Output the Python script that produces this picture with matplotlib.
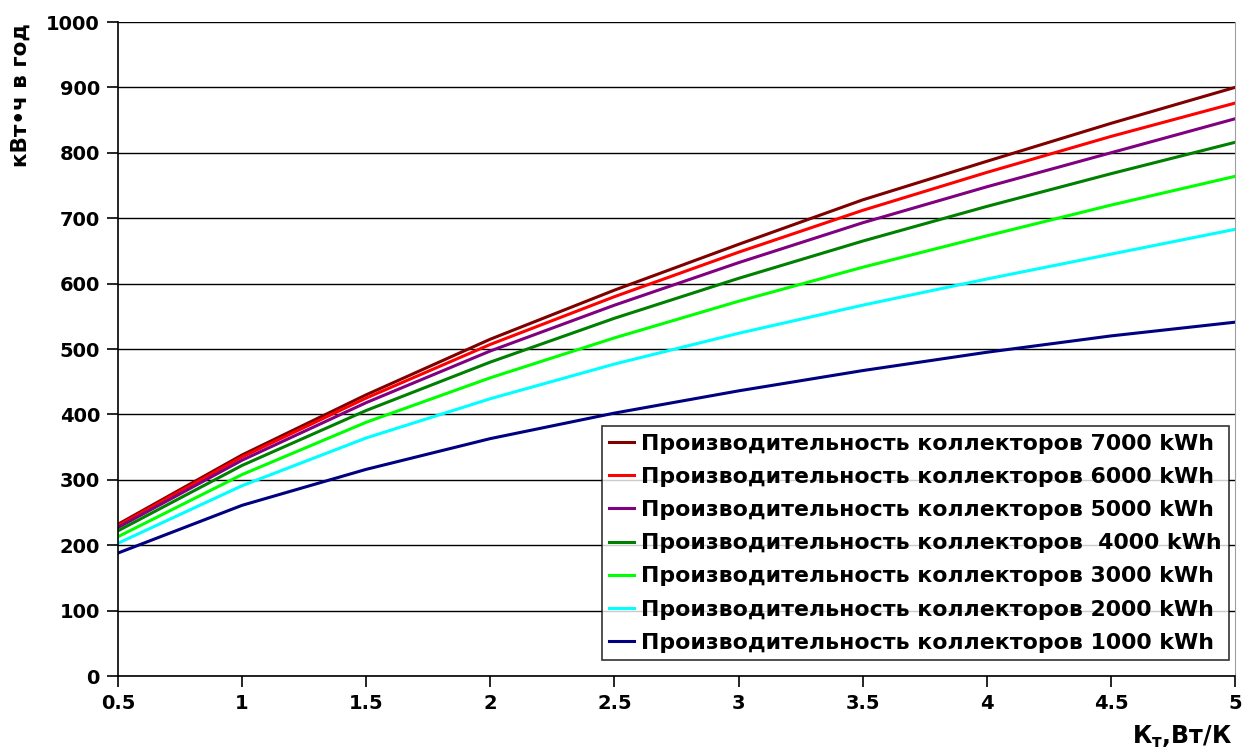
import matplotlib
matplotlib.use("Agg")
import matplotlib.pyplot as plt

plt.rcParams['font.family'] = ['DejaVu Sans']
plt.rcParams['mathtext.default'] = 'regular'

# K_t values, W/K
kt = [0.5, 1.0, 1.5, 2.0, 2.5, 3.0, 3.5, 4.0, 4.5, 5.0]

# kWh per year for each collector output
q7000 = [232, 338, 430, 515, 590, 660, 728, 787, 845, 900]
q6000 = [230, 335, 425, 507, 580, 648, 712, 770, 825, 876]
q5000 = [227, 330, 418, 497, 567, 632, 693, 748, 800, 852]
q4000 = [222, 322, 406, 480, 547, 608, 665, 718, 768, 816]
q3000 = [213, 308, 388, 456, 517, 573, 625, 673, 720, 764]
q2000 = [203, 291, 364, 424, 477, 524, 567, 607, 645, 683]
q1000 = [188, 261, 316, 363, 402, 436, 467, 495, 520, 541]

labels = ["Производительность коллекторов 7000 kWh",
          "Производительность коллекторов 6000 kWh",
          "Производительность коллекторов 5000 kWh",
          "Производительность коллекторов  4000 kWh",
          "Производительность коллекторов 3000 kWh",
          "Производительность коллекторов 2000 kWh",
          "Производительность коллекторов 1000 kWh"]
series = [q7000, q6000, q5000, q4000, q3000, q2000, q1000]
colors = ["#800000", "#FF0000", "#800080", "#008000", "#00FF00", "#00FFFF", "#000080"]

fig = plt.figure(figsize=(12.42, 7.49), dpi=100)
ax = fig.add_axes([118/1242, 1 - 676/749, (1235-118)/1242, (676-22)/749])

for y, c, lab in zip(series, colors, labels):
    ax.plot(kt, y, color=c, lw=2.2, label=lab)

ax.set_xlim(0.5, 5)
ax.set_ylim(0, 1000)
ax.set_xticks([0.5, 1, 1.5, 2, 2.5, 3, 3.5, 4, 4.5, 5])
ax.set_xticklabels(["0.5", "1", "1.5", "2", "2.5", "3", "3.5", "4", "4.5", "5"])
ax.set_yticks(range(0, 1001, 100))
ax.yaxis.grid(True, color="black", lw=1)
ax.set_axisbelow(True)

ax.spines["top"].set_visible(False)
ax.spines["right"].set_color("#a0a0a0")
ax.spines["left"].set_linewidth(1.2)
ax.spines["bottom"].set_linewidth(1.2)
ax.tick_params(axis="both", direction="out", length=8, width=1.2,
               labelsize=14, pad=5)
for t in ax.get_xticklabels() + ax.get_yticklabels():
    t.set_fontweight("bold")

ax.set_ylabel("кВт•ч в год", fontsize=15.5, fontweight="bold")
ax.yaxis.set_label_coords(-0.078, 0.888)
fig.text(1232/1242, 1 - 737/749, "К$_{т}$,Вт/К", fontsize=17, fontweight="bold",
         ha="right", va="center")

leg = ax.legend(loc="lower right", bbox_to_anchor=(0.999, 0.017),
                prop={"size": 15.8, "weight": "bold"}, frameon=True,
                fancybox=False, edgecolor="black", handlelength=1.1,
                handletextpad=0.35, labelspacing=0.6, borderpad=0.35,
                borderaxespad=0.2)
leg.get_frame().set_linewidth(1.2)

fig.savefig("out.png", dpi=100)
